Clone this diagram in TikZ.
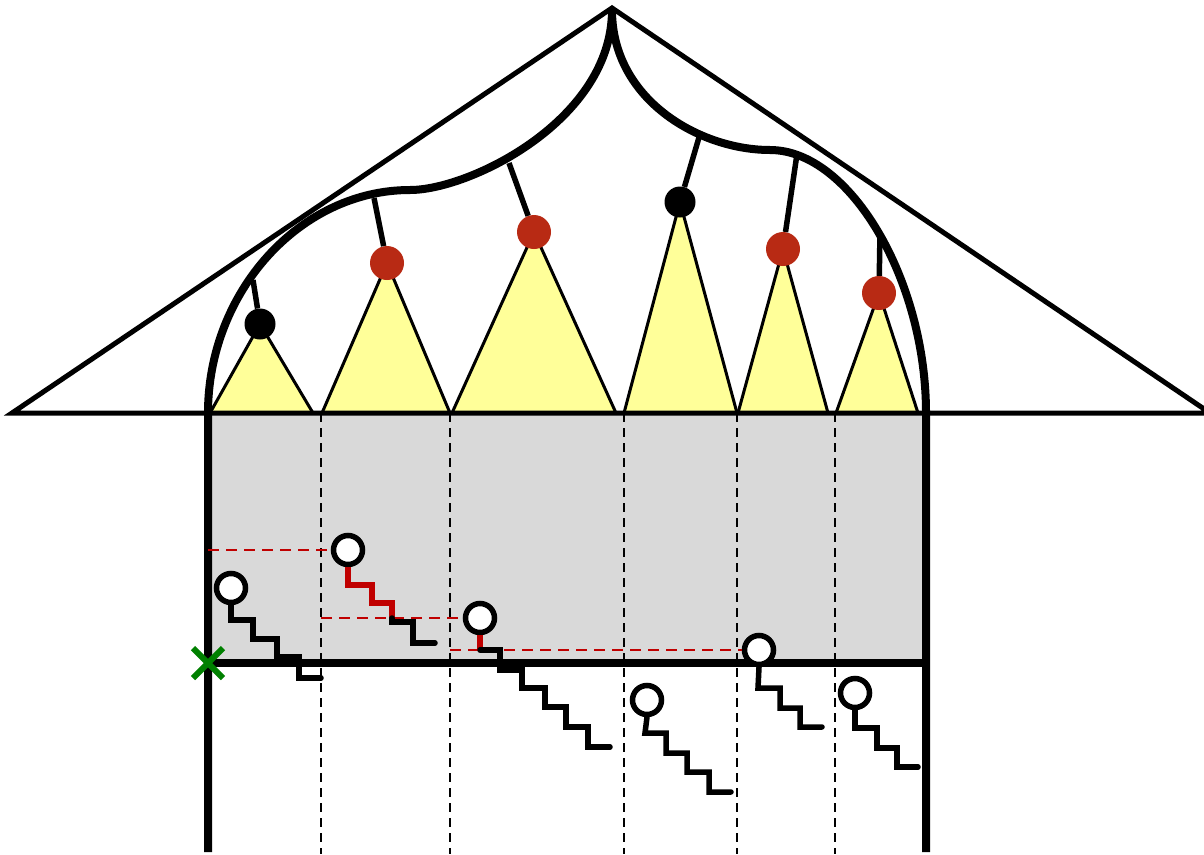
\documentclass[tikz,border=0pt]{standalone}
\usetikzlibrary{positioning,calc}
\definecolor{tri}{HTML}{FFFF99}
\definecolor{boxgray}{HTML}{D9D9D9}
\definecolor{ballred}{HTML}{B82A14}
\definecolor{pathred}{HTML}{C00000}
\definecolor{xgreen}{HTML}{008000}
\begin{document}
\begin{tikzpicture}[x=1pt,y=-1pt,
  thickline/.style={line width=8pt},
  roofline/.style={line width=5pt},
  stem/.style={line width=5.5pt},
  tristyle/.style={fill=tri,draw=black,line width=3pt,line join=round},
  blackball/.style={circle,fill=black,minimum size=31pt,inner sep=0pt},
  redball/.style={circle,fill=ballred,minimum size=34pt,inner sep=0pt},
  openball/.style={circle,fill=white,draw=black,line width=5.5pt,minimum size=29pt,inner sep=0pt},
  stairs/.style={line width=5.5pt,line cap=round,line join=miter},
  redstairs/.style={line width=5.5pt,draw=pathred,line join=miter},
  guide/.style={line width=2.6pt,dash pattern=on 9pt off 6pt},
  redguide/.style={line width=2.6pt,draw=pathred,dash pattern=on 11pt off 7pt},
  cross/.style={line width=6pt,draw=xgreen}]
\useasboundingbox (0,0) rectangle (1204,854);

% gray box
\fill[boxgray] (208,413) rectangle (926,663);

% dashed verticals
\foreach \x in {321,450,624,737,835}
  \draw[guide] (\x,413) -- (\x,854);

% triangles
\coordinate (t1) at (260,324);
\coordinate (t2) at (387,263);
\coordinate (t3) at (534,232);
\coordinate (t4) at (680,202);
\coordinate (t5) at (783,249);
\coordinate (t6) at (879,293);
\draw[tristyle] (t1) -- (210,413) -- (313,413) -- cycle;
\draw[tristyle] (t2) -- (322,413) -- (450,413) -- cycle;
\draw[tristyle] (t3) -- (452,413) -- (616,413) -- cycle;
\draw[tristyle] (t4) -- (624,413) -- (737,413) -- cycle;
\draw[tristyle] (t5) -- (738,413) -- (828,413) -- cycle;
\draw[tristyle] (t6) -- (836,413) -- (918,413) -- cycle;

% roof
\coordinate (lc) at (12,413);
\coordinate (apex) at (612,8);
\coordinate (rc) at (1210,413);
\draw[roofline,line join=miter] (rc) -- (lc) -- (apex) -- (rc);

% stems
\coordinate (s1) at (253,280);
\coordinate (s2) at (374,198);
\coordinate (s3) at (509,163);
\coordinate (s4) at (700,134);
\coordinate (s5) at (797,154);
\coordinate (s6) at (880,232);
\node[blackball] (b1) at (t1) {};
\node[redball] (b2) at (t2) {};
\node[redball] (b3) at (t3) {};
\node[blackball] (b4) at (t4) {};
\node[redball] (b5) at (t5) {};
\node[redball] (b6) at (t6) {};
\foreach \i in {1,...,6}
  \draw[stem] (s\i) -- (b\i);

% thick outline
\draw[thickline,line join=round] (208,852) -- (208,413)
  .. controls (208,292) and (300,190) .. (410,190)
  .. controls (470,190) and (612,120) .. (612,10)
  .. controls (612,100) and (700,150) .. (770,150)
  .. controls (850,150) and (926,280) .. (926,413) -- (926,852);
\draw[thickline] (208,663) -- (926,663);

% open balls and red dashed guides
\node[openball] (oA) at (231,588) {};
\node[openball] (oB) at (348,550) {};
\node[openball] (oC) at (480,618) {};
\node[openball] (oD) at (647,700) {};
\node[openball] (oE) at (759,650) {};
\node[openball] (oF) at (855,693) {};
\draw[redguide] (208,550) -- (oB.west);
\draw[redguide] (321,618) -- (oC.west);
\draw[redguide] (450,650) -- (oE.west);

% staircases
\draw[stairs] (oA.south) -- (231,620) -- (253,620) -- (253,639) -- (277,639) -- (277,657) -- (299,657) -- (299,678) -- (321,678);
\draw[redstairs] (oB.south) -- (348,585) -- (372,585) -- (372,603) -- (392,603) -- (392,620);
\draw[stairs] (392,618) -- (392,622) -- (413,622) -- (413,643) -- (435,643);
\draw[redstairs] (oC.south) -- (480,650);
\draw[stairs] (480,650) -- (500,650) -- (500,670) -- (522,670) -- (522,688) -- (545,688) -- (545,707) -- (566,707) -- (566,727) -- (588,727) -- (588,747) -- (610,747);
\draw[stairs] (oD.south) -- (645,733) -- (666,733) -- (666,753) -- (687,753) -- (687,772) -- (709,772) -- (709,792) -- (731,792);
\draw[stairs] (oE.south) -- (758,688) -- (780,688) -- (780,708) -- (800,708) -- (800,727) -- (822,727);
\draw[stairs] (oF.south) -- (855,728) -- (877,728) -- (877,748) -- (897,748) -- (897,767) -- (918,767);

% green cross
\coordinate (xc) at (208,663);
\draw[cross] ($(xc)+(-15,-15)$) -- ($(xc)+(15,15)$);
\draw[cross] ($(xc)+(-15,15)$) -- ($(xc)+(15,-15)$);
\end{tikzpicture}
\end{document}
